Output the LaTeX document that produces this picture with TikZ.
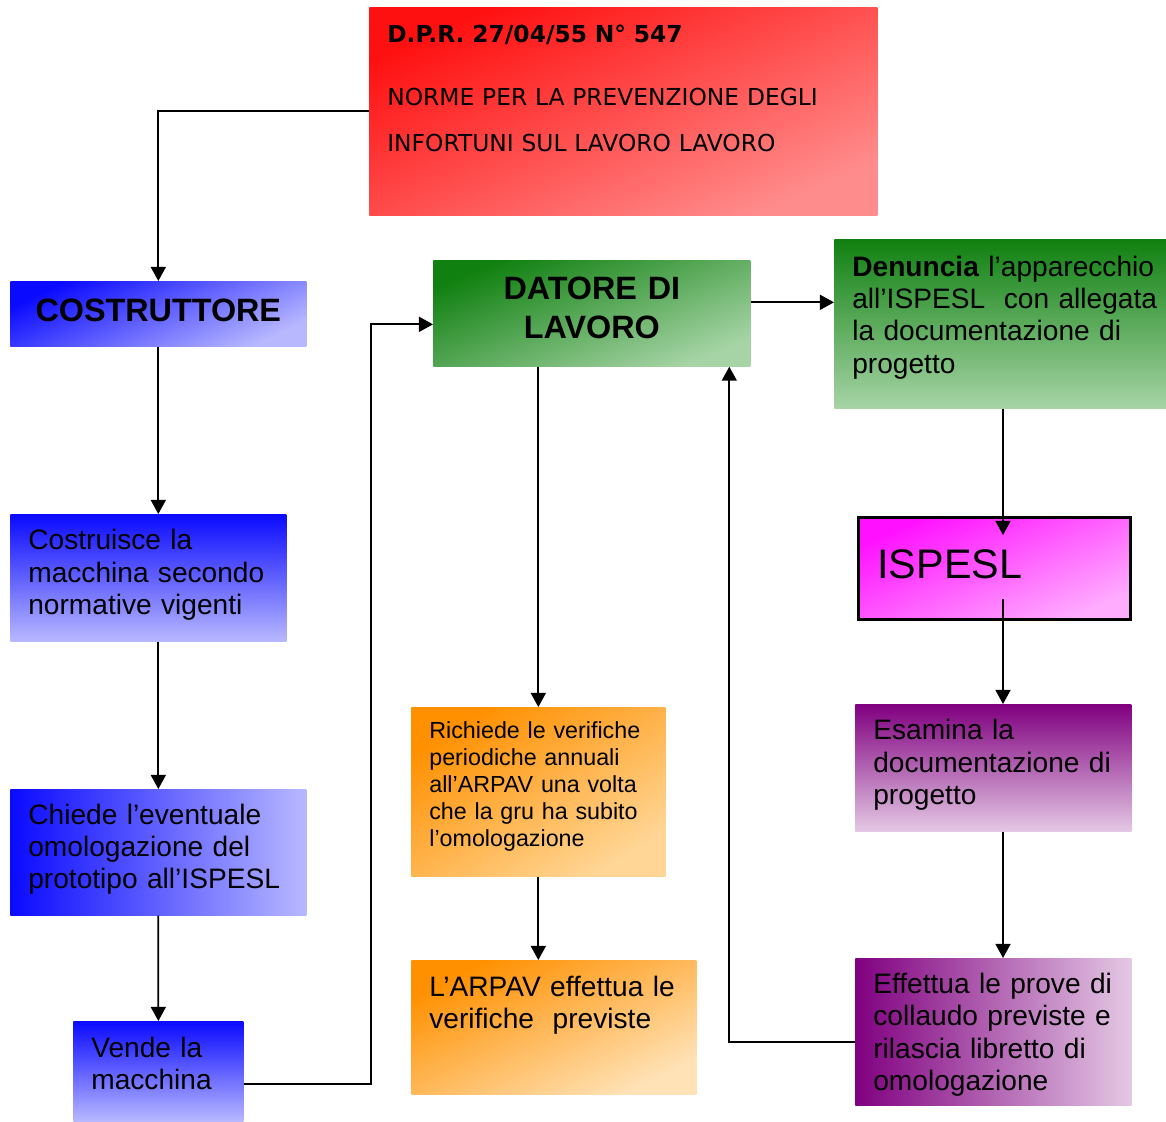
\documentclass[tikz,border=0pt]{standalone}
\usepackage{fontspec}
\setmainfont{Liberation Sans}
\newfontfamily\dprfont{DejaVu Sans}
\usetikzlibrary{positioning,arrows.meta}

\definecolor{redA}{RGB}{255,16,16}
\definecolor{redB}{RGB}{255,140,140}
\definecolor{bluA}{RGB}{10,10,255}
\definecolor{bluB}{RGB}{184,184,255}
\definecolor{grnA}{RGB}{16,128,16}
\definecolor{grnB}{RGB}{166,212,166}
\definecolor{magA}{RGB}{255,16,255}
\definecolor{magB}{RGB}{255,172,255}
\definecolor{purA}{RGB}{128,0,128}
\definecolor{purB}{RGB}{228,200,228}
\definecolor{oraA}{RGB}{255,144,0}
\definecolor{oraB}{RGB}{255,214,150}
\definecolor{oraC}{RGB}{255,226,182}

% spazio sotto il testo, per alzarlo nel riquadro
\newcommand{\padb}[1]{\par\vspace{#1}\hrule height 0pt}

\begin{document}
\begin{tikzpicture}[x=0.02cm,y=-0.02cm,>={Triangle[length=8pt,width=8.5pt]},
  box/.style={rectangle,anchor=north west,inner xsep=0.36cm,inner ysep=0pt,
    align=left,font=\fontsize{16}{18.4}\selectfont},
  head/.style={box,align=center,font=\bfseries\fontsize{18.4}{22.1}\selectfont},
  arr/.style={->,line width=1pt}]
  \useasboundingbox (0,0) rectangle (1166,1122);

  % testata
  \node[box,minimum width=10.16cm,minimum height=4.16cm,text width=9.44cm,
    top color=redA,bottom color=redB,shading angle=24,
    font=\dprfont\fontsize{13.3}{26.1}\selectfont] (dpr) at (369,7)
    {\textbf{D.P.R. 27/04/55 N° 547}\\[10pt]
     NORME PER LA PREVENZIONE DEGLI\\
     INFORTUNI SUL LAVORO LAVORO\padb{26pt}};

  % colonna costruttore
  \node[head,minimum width=5.92cm,minimum height=1.30cm,text width=5.20cm,
    top color=bluA,bottom color=bluB,shading angle=25] (costr) at (10,281)
    {COSTRUTTORE\padb{3.4pt}};
  \node[box,minimum width=5.52cm,minimum height=2.54cm,text width=4.80cm,
    top color=bluA,bottom color=bluB] (build) at (10,514)
    {Costruisce la\\ macchina secondo\\ normative vigenti\padb{3.4pt}};
  \node[box,minimum width=5.92cm,minimum height=2.52cm,text width=5.20cm,
    left color=bluA,right color=bluB] (omol) at (10,789)
    {Chiede l’eventuale\\ omologazione del\\ prototipo all’ISPESL\padb{3.4pt}};
  \node[box,minimum width=3.40cm,minimum height=2.00cm,text width=2.68cm,
    top color=bluA,bottom color=bluB] (sell) at (73,1021)
    {Vende la\\ macchina\padb{9pt}};

  % colonna datore
  \node[head,minimum width=6.34cm,minimum height=2.12cm,text width=5.62cm,
    top color=grnA,bottom color=grnB,shading angle=22] (datore) at (433,260)
    {DATORE DI\\ LAVORO\padb{6.2pt}};
  \node[box,minimum width=5.08cm,minimum height=3.38cm,text width=4.36cm,
    top color=oraA,bottom color=oraB,shading angle=32,
    font=\fontsize{13.25}{15.4}\selectfont] (req) at (411,707)
    {Richiede le verifiche\\ periodiche annuali\\ all’ARPAV una volta\\ che la gru ha subito\\ l’omologazione\padb{6.2pt}};
  \node[box,minimum width=5.70cm,minimum height=2.68cm,text width=4.98cm,
    top color=oraA,bottom color=oraC,shading angle=26] (arpav) at (411,960)
    {L’ARPAV effettua le\\ verifiche~ previste\padb{25pt}};

  % colonna ISPESL
  \node[box,minimum width=6.64cm,minimum height=3.38cm,text width=5.92cm,
    top color=grnA,bottom color=grnB] (den) at (834,239)
    {\mbox{\textbf{Denuncia} l’apparecchio}\\ \mbox{all’ISPESL~ con allegata}\\
     la documentazione di\\ progetto\padb{7.5pt}};
  \node[box,draw=black,line width=0.06cm,minimum width=5.46cm,minimum height=2.06cm,
    inner xsep=0.39cm,text width=4.68cm,top color=magA,bottom color=magB,shading angle=24,
    font=\fontsize{23.5}{27}\selectfont] (ispesl) at (856.5,515.5) {ISPESL\padb{4.5pt}};
  \node[box,minimum width=5.52cm,minimum height=2.54cm,text width=4.80cm,
    top color=purA,bottom color=purB] (exam) at (855,704)
    {Esamina la\\ documentazione di\\ progetto\padb{3.4pt}};
  \node[box,minimum width=5.52cm,minimum height=2.94cm,text width=4.80cm,
    left color=purA,right color=purB] (test) at (855,958)
    {Effettua le prove di\\ collaudo previste e\\ rilascia libretto di\\ omologazione\padb{-3.4pt}};

  \coordinate (rx) at (1003,0);

  % collegamenti
  \draw[arr] (dpr.west) -| (costr.north);
  \draw[arr] (costr.south) -- (costr.south |- build.north);
  \draw[arr] (costr.south |- build.south) -- (omol.north);
  \draw[arr] (omol.south) -- (sell.north);
  \draw[arr] ([yshift=-0.26cm]sell.east) -- ++(127,0) |- ([yshift=-0.22cm]datore.west);
  \draw[arr] (req.north |- datore.south) -- (req.north);
  \draw[arr] (req.south) -- (req.south |- arpav.north);
  \draw[arr] ([yshift=0.22cm]datore.east) -- ([yshift=0.22cm]datore.east -| den.west);
  \draw[arr] (rx |- den.south) -- ([yshift=-0.39cm]rx |- ispesl.north);
  \draw[arr] ([yshift=0.44cm]rx |- ispesl.south) -- (rx |- exam.north);
  \draw[arr] (rx |- exam.south) -- (rx |- test.north);
  \draw[arr] ([yshift=-0.21cm]test.west) -| ([xshift=2.75cm]datore.south);
\end{tikzpicture}
\end{document}
